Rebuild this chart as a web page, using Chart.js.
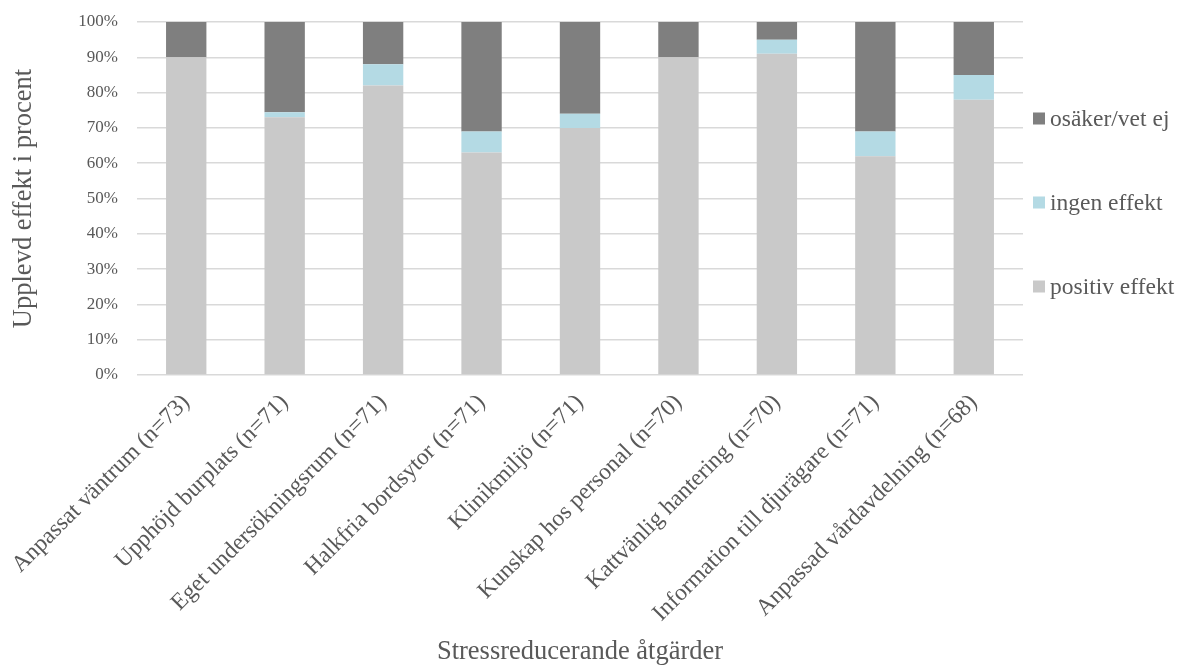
<!DOCTYPE html>
<html>
<head>
<meta charset="utf-8">
<script src="https://cdn.jsdelivr.net/npm/chart.js@4/dist/chart.umd.min.js"></script>
<style>
html,body{margin:0;padding:0;background:#fff;}
#wrap{width:1180px;height:669px;position:relative;}
</style>
</head>
<body>
<div id="wrap"><canvas id="c" width="1180" height="669"></canvas></div>
<script>
const categories = [
  "Anpassat väntrum (n=73)",
  "Upphöjd burplats (n=71)",
  "Eget undersökningsrum (n=71)",
  "Halkfria bordsytor (n=71)",
  "Klinikmiljö (n=71)",
  "Kunskap hos personal (n=70)",
  "Kattvänlig hantering (n=70)",
  "Information till djurägare (n=71)",
  "Anpassad vårdavdelning (n=68)"
];
const positivEffekt = [90, 73, 82, 63, 70, 90, 91, 62, 78];
const ingenEffekt   = [0, 1.4, 6, 6, 4, 0, 4, 7, 7];
const osakerVetEj   = [10, 25.6, 12, 31, 26, 10, 5, 31, 15];
const yTicks = ["0%","10%","20%","30%","40%","50%","60%","70%","80%","90%","100%"];

const FONT = "'Liberation Serif', 'Times New Roman', serif";
const TXT = "#595959";

const sideLegend = {
  id: 'sideLegend',
  afterDraw(chart) {
    const ctx = chart.ctx;
    const ca = chart.chartArea;
    const ds = chart.data.datasets.slice().reverse();
    const mid = (ca.top + ca.bottom) / 2 + 4;
    const gap = 84;
    ctx.save();
    ctx.font = "23.5px " + FONT;
    ctx.textBaseline = 'middle';
    ctx.textAlign = 'left';
    ds.forEach((d, i) => {
      const y = mid + (i - (ds.length - 1) / 2) * gap;
      ctx.fillStyle = d.backgroundColor;
      ctx.fillRect(ca.right + 10, y - 6, 12, 12);
      ctx.fillStyle = TXT;
      ctx.fillText(d.label, ca.right + 27, y + 1);
    });
    ctx.restore();
  }
};

new Chart(document.getElementById('c'), {
  type: 'bar',
  data: {
    labels: categories,
    datasets: [
      { label: 'positiv effekt', data: positivEffekt, backgroundColor: '#c9c9c9' },
      { label: 'ingen effekt', data: ingenEffekt, backgroundColor: '#b4dae4' },
      { label: 'osäker/vet ej', data: osakerVetEj, backgroundColor: '#7f7f7f' }
    ]
  },
  plugins: [sideLegend],
  options: {
    responsive: false,
    animation: false,
    layout: { padding: { left: 0, right: 157, top: 0, bottom: 0 } },
    datasets: { bar: { barPercentage: 0.41, categoryPercentage: 1.0 } },
    plugins: {
      tooltip: { enabled: false },
      legend: { display: false }
    },
    scales: {
      x: {
        stacked: true,
        grid: { display: false },
        border: { display: false },
        afterFit: function(s){ s.height = 294; },
        ticks: {
          font: { family: FONT, size: 23.5 },
          color: TXT,
          maxRotation: 45,
          minRotation: 45,
          autoSkip: false,
          padding: 6
        },
        title: {
          display: true,
          text: 'Stressreducerande åtgärder',
          font: { family: FONT, size: 26.5 },
          color: TXT,
          padding: { top: 4, bottom: 1 }
        }
      },
      y: {
        stacked: true,
        min: 0,
        max: 100,
        afterFit: function(s){ s.width = 137; s.paddingTop = 22; s.paddingBottom = 10; },
        grid: { color: '#d9d9d9', lineWidth: 1.5, drawTicks: false },
        border: { display: false },
        ticks: {
          stepSize: 10,
          font: { family: FONT, size: 17 },
          color: TXT,
          padding: 19,
          callback: function(v){ return yTicks[Math.round(v/10)]; }
        },
        title: {
          display: true,
          text: 'Upplevd effekt i procent',
          font: { family: FONT, size: 26.5 },
          color: TXT,
          padding: { top: 8, bottom: 4 }
        }
      }
    }
  }
});
</script>
</body>
</html>
